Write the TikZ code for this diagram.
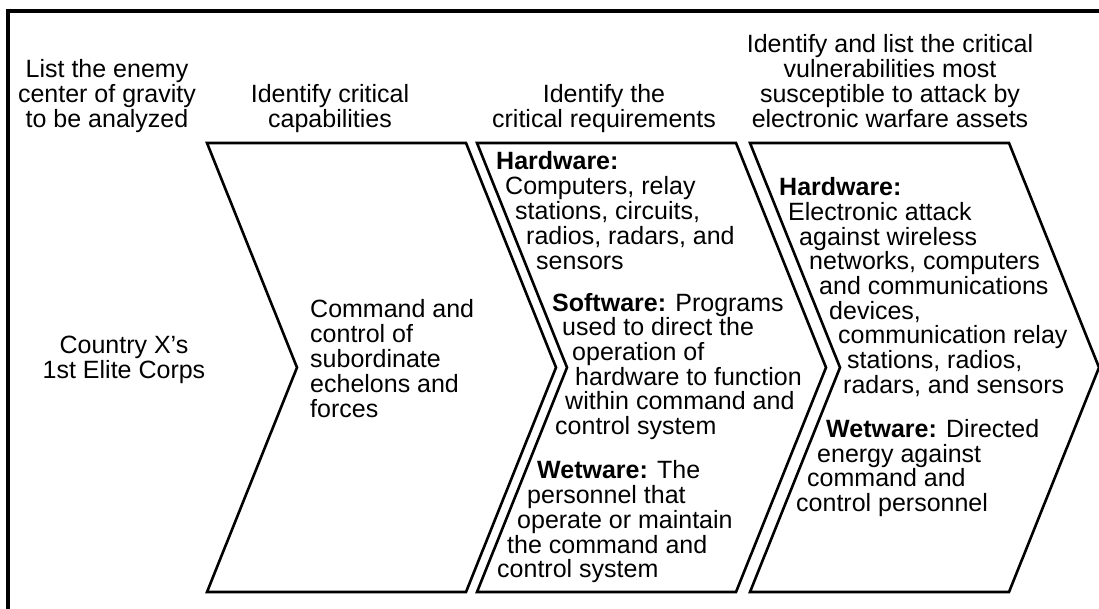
\documentclass[tikz,border=0pt]{standalone}
\usepackage{fontspec}
\setmainfont{Liberation Sans}
\tikzset{
    txt/.style={font=\fontsize{25}{24.8}\selectfont, inner sep=0pt},
    chev/.style={line width=2.6pt},
}
\begin{document}
\begin{tikzpicture}[x=1pt, y=-1pt]
        \useasboundingbox (0, 0) rectangle (1099, 608);
        % Frame round the picture (only left and top edges are visible)
        \draw[line width=3.4pt] (8, 640) -- (8, 11) -- (1130, 11);

        % Draw the three chevrons
        \foreach \x in {207, 477, 750}
        \draw[chev] (\x, 143) -- ++(259, 0) -- ++(90, 224.5) -- ++(-90, 224.5)
            -- ++(-259, 0) -- ++(90, -224.5) -- cycle;

        % Headings of the four steps (base is the last line)
        \node[txt, align=center, anchor=base] (cog) at (107, 127)
            {List the enemy\\center of gravity\\to be analyzed};
        \node[txt, align=center, anchor=base] (capab) at (330, 127)
            {Identify critical\\capabilities};
        \node[txt, align=center, anchor=base] (requ) at (604, 127)
            {Identify the\\critical requirements};
        \node[txt, align=center, anchor=base] (vuln) at (890, 127)
            {Identify and list the critical\\vulnerabilities most\\susceptible to attack by\\electronic warfare assets};

        % Center of gravity and its capability
        \node[txt, align=center, anchor=base] (corps) at (124, 378)
            {Country X’s\\1st Elite Corps};
        \node[txt, align=left, anchor=base west] (cmd) at (310, 417)
            {Command and\\control of\\subordinate\\echelons and\\forces};

        % Critical requirements, one line at a time along the slanted edge
        \foreach \x/\y/\t [count=\i] in {
            496/169/{\textbf{Hardware:}}, 505/194/{Computers, relay},
            515/219/{stations, circuits,}, 526/244/{radios, radars, and},
            536/269/{sensors},
            552/311/{\textbf{Software:} Programs}, 562/335/{used to direct the},
            572/360/{operation of}, 575/385/{hardware to function},
            565/409/{within command and}, 555/434/{control system},
            537/478/{\textbf{Wetware:} The}, 527/503/{personnel that},
            517/528/{operate or maintain}, 507/553/{the command and},
            497/577/{control system}
        }
        \node[txt, anchor=base west] (req\i) at (\x, \y) {\t};

        % Critical vulnerabilities
        \foreach \x/\y/\t [count=\i] in {
            779/195/{\textbf{Hardware:}}, 788/220/{Electronic attack},
            799/245/{against wireless}, 809/269/{networks, computers},
            819/294/{and communications}, 829/319/{devices,},
            838/343/{communication relay}, 847/368/{stations, radios,},
            843/393/{radars, and sensors},
            826/437/{\textbf{Wetware:} Directed}, 817/462/{energy against},
            807/486/{command and}, 796/511/{control personnel}
        }
        \node[txt, anchor=base west] (vul\i) at (\x, \y) {\t};
    \end{tikzpicture}
\end{document}
